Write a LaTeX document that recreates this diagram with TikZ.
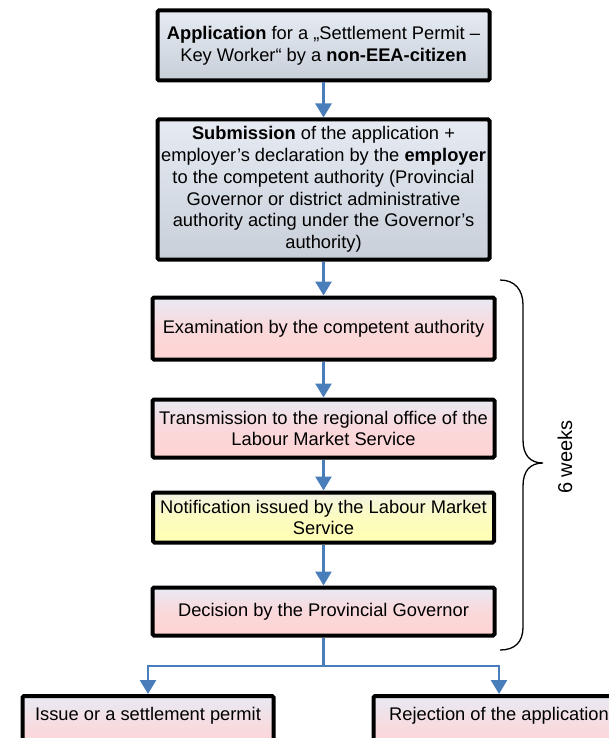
\documentclass[tikz,border=0pt]{standalone}
\usepackage{fontspec}
\setmainfont{Liberation Sans}
\usetikzlibrary{arrows.meta}

\definecolor{greyA}{HTML}{E6EBF3}
\definecolor{greyB}{HTML}{C8CFD8}
\definecolor{pinkA}{HTML}{E9E9F3}
\definecolor{pinkB}{HTML}{FFD3D3}
\definecolor{yellowA}{HTML}{F2F2E4}
\definecolor{yellowB}{HTML}{FFFFB3}
\definecolor{flowblue}{HTML}{4A7EBB}

\tikzset{
    stepbase/.style={draw=black, line width=4pt, rounded corners=1.5pt, align=center,
        font=\fontsize{18.3}{21.7}\selectfont, inner sep=0pt, shading angle=30},
    greybox/.style={stepbase, top color=greyA, bottom color=greyB, minimum width=332pt},
    pinkbox/.style={stepbase, top color=pinkA, bottom color=pinkB, middle color=pinkB!75!pinkA, minimum width=342pt},
    yellowbox/.style={stepbase, top color=yellowA, bottom color=yellowB, middle color=yellowB!75!yellowA, minimum width=341pt},
    flowline/.style={draw=flowblue, line width=2.6pt},
    flow/.style={flowline, -{Triangle[width=16pt,length=14pt]}},
}

\begin{document}
\begin{tikzpicture}[x=1pt,y=-1pt]
        \useasboundingbox (0,0) rectangle (609,738);

        % Antrag und Einreichung
        \node[greybox, minimum height=70pt] (appl) at (323.5,45.5)
            {\textbf{Application} for a „Settlement Permit –\\Key Worker“ by a \textbf{non-EEA-citizen}};
        \node[greybox, minimum height=140pt] (subm) at (323.5,189.5)
            {\textbf{Submission} of the application +\\employer’s declaration by the \textbf{employer}\\to the competent authority (Provincial\\Governor or district administrative\\authority acting under the Governor’s\\authority)};

        % Verfahren
        \node[pinkbox, minimum height=62pt] (exam) at (323.5,328.5) {Examination by the competent authority};
        \node[pinkbox, minimum height=58pt] (trans) at (323.5,428.5) {Transmission to the regional office of the\\Labour Market Service};
        \node[yellowbox, minimum height=50pt] (notif) at (323.5,517.5) {Notification issued by the Labour Market\\Service};
        \node[pinkbox, minimum height=48pt] (dec) at (323.5,611.5) {Decision by the Provincial Governor};

        % Ergebnis
        \node[pinkbox, minimum width=251pt, anchor=north, text height=13pt, text depth=40pt,
            inner ysep=11.5pt] (issue) at (148,694) {Issue or a settlement permit};
        \node[pinkbox, minimum width=251pt, anchor=north, text height=13pt, text depth=40pt,
            inner ysep=11.5pt] (reject) at (499,694) {Rejection of the application};

        % Pfeile
        \draw[flow] (appl.south) -- (subm.north);
        \draw[flow] (subm.south) -- (exam.north);
        \draw[flow] (exam.south) -- (trans.north);
        \draw[flow] (trans.south) -- (notif.north);
        \draw[flow] (notif.south) -- (dec.north);

        \coordinate (split) at (323.5,666);
        \draw[flowline] (dec.south) -- (split);
        \draw[flow] (split) -| (issue.north);
        \draw[flow] (split) -| (reject.north);

        % Klammer
        \draw[line width=1.3pt] (500,280) .. controls (515,280) and (523,290) .. (523,305)
            -- (523,440) .. controls (523,455) and (530,463) .. (543,463)
            .. controls (530,463) and (523,471) .. (523,486)
            -- (523,627) .. controls (523,642) and (515,650) .. (500,650);
        \node[rotate=90, font=\fontsize{20}{24}\selectfont] (weeks) at (565,457) {6 weeks};
    \end{tikzpicture}
\end{document}
